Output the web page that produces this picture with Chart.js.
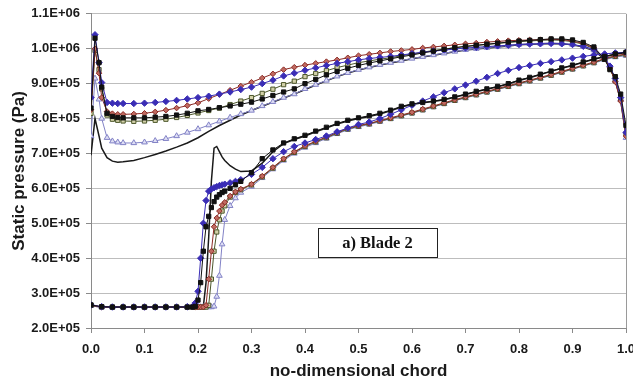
<!DOCTYPE html>
<html>
<head>
<meta charset="utf-8">
<script src="https://cdn.jsdelivr.net/npm/chart.js@4.4.0/dist/chart.umd.min.js"></script>
<style>
html,body{margin:0;padding:0;background:#fff;}
#c{display:block;}
</style>
</head>
<body>
<canvas id="c" width="633" height="387"></canvas>
<script>
// Values in units of 1E+05 Pa
const upperX = [0,0.0075,0.015,0.02,0.03,0.04,0.05,0.06,0.08,0.10,0.12,0.14,0.16,0.18,0.20,0.22,0.24,0.26,0.28,0.30,0.32,0.34,0.36,0.38,0.40,0.42,0.44,0.46,0.48,0.50,0.52,0.54,0.56,0.58,0.60,0.62,0.64,0.66,0.68,0.70,0.72,0.74,0.76,0.78,0.80,0.82,0.84,0.86,0.88,0.90,0.92,0.94,0.96,0.97,0.98,0.99,1.0];

const blueUpper = [8.6,10.4,9.6,9.03,8.46,8.44,8.43,8.43,8.43,8.44,8.46,8.49,8.52,8.56,8.6,8.64,8.7,8.76,8.83,8.9,9.0,9.1,9.22,9.3,9.38,9.45,9.52,9.58,9.63,9.68,9.72,9.75,9.78,9.82,9.86,9.9,9.93,9.96,9.99,10.02,10.04,10.06,10.08,10.1,10.12,10.13,10.14,10.15,10.14,10.12,10.07,9.98,9.75,9.5,9.15,8.6,7.6];
const brownUpper = [8.25,10.0,9.3,8.6,8.2,8.14,8.12,8.12,8.13,8.15,8.19,8.24,8.3,8.37,8.45,8.57,8.69,8.81,8.93,9.04,9.16,9.28,9.4,9.47,9.53,9.58,9.63,9.68,9.74,9.8,9.84,9.88,9.92,9.95,9.98,10.02,10.05,10.08,10.11,10.14,10.16,10.19,10.21,10.23,10.24,10.25,10.26,10.27,10.26,10.22,10.15,10.02,9.72,9.45,9.05,8.5,7.5];
const oliveUpper = [8.15,9.95,9.4,8.85,8.1,7.98,7.95,7.93,7.92,7.93,7.95,7.98,8.03,8.09,8.16,8.23,8.3,8.4,8.5,8.6,8.72,8.84,8.97,9.07,9.2,9.29,9.37,9.46,9.53,9.6,9.65,9.7,9.74,9.8,9.85,9.9,9.95,9.99,10.03,10.06,10.09,10.12,10.15,10.18,10.2,10.22,10.24,10.25,10.24,10.2,10.13,10.0,9.7,9.42,9.08,8.55,7.55];
const blackUpper = [8.3,10.3,9.6,8.9,8.15,8.06,8.03,8.02,8.02,8.02,8.04,8.06,8.1,8.15,8.22,8.26,8.31,8.36,8.41,8.47,8.56,8.66,8.76,8.85,9.0,9.12,9.25,9.35,9.44,9.52,9.59,9.65,9.71,9.77,9.82,9.88,9.93,9.98,10.03,10.07,10.1,10.13,10.16,10.19,10.22,10.24,10.26,10.28,10.28,10.25,10.18,10.05,9.7,9.4,9.2,8.7,7.8];
const lavUpper = [7.5,9.15,8.55,8.0,7.45,7.35,7.32,7.3,7.3,7.32,7.36,7.42,7.5,7.6,7.7,7.81,7.92,8.03,8.13,8.23,8.36,8.48,8.6,8.7,8.85,8.97,9.09,9.21,9.31,9.4,9.47,9.54,9.6,9.66,9.72,9.77,9.82,9.87,9.92,9.97,10.0,10.03,10.06,10.09,10.12,10.14,10.15,10.16,10.15,10.12,10.06,9.96,9.72,9.5,9.1,8.55,7.45];
const lineUpper = [6.95,8.0,7.5,7.15,6.88,6.78,6.75,6.76,6.8,6.88,6.97,7.07,7.18,7.3,7.45,7.63,7.8,7.95,8.1,8.23,8.35,8.47,8.59,8.7,8.83,8.96,9.08,9.2,9.3,9.39,9.46,9.53,9.59,9.65,9.71,9.76,9.81,9.86,9.91,9.96,9.99,10.02,10.05,10.08,10.11,10.13,10.14,10.15,10.14,10.11,10.05,9.95,9.7,9.48,9.08,8.52,7.5];

const lowerX = [0,0.02,0.04,0.06,0.08,0.10,0.12,0.14,0.16,0.18,0.19,0.195,0.20,0.205,0.21,0.215,0.22,0.225,0.23,0.235,0.24,0.245,0.25,0.26,0.27,0.28,0.30,0.32,0.34,0.36,0.38,0.40,0.42,0.44,0.46,0.48,0.50,0.52,0.54,0.56,0.58,0.60,0.62,0.64,0.66,0.68,0.70,0.72,0.74,0.76,0.78,0.80,0.82,0.84,0.86,0.88,0.90,0.92,0.94,0.96,0.98,1.0];

const blueLower = [2.66,2.61,2.6,2.6,2.6,2.6,2.6,2.6,2.6,2.61,2.62,2.72,3.05,4.0,5.0,5.65,5.92,5.98,6.02,6.05,6.08,6.1,6.12,6.16,6.2,6.25,6.4,6.6,6.85,7.05,7.2,7.3,7.4,7.5,7.62,7.73,7.83,7.9,8.0,8.12,8.25,8.38,8.5,8.62,8.74,8.85,8.96,9.07,9.18,9.29,9.38,9.46,9.52,9.58,9.63,9.68,9.73,9.78,9.82,9.85,9.88,9.9];
const blackLower = [2.66,2.61,2.6,2.6,2.6,2.6,2.6,2.6,2.6,2.6,2.6,2.62,2.8,3.3,4.2,4.9,5.2,5.45,5.62,5.75,5.82,5.88,5.92,6.0,6.1,6.2,6.45,6.85,7.1,7.3,7.42,7.52,7.64,7.75,7.86,7.95,8.02,8.08,8.15,8.24,8.35,8.42,8.46,8.5,8.55,8.62,8.7,8.78,8.85,8.92,9.0,9.1,9.18,9.27,9.36,9.45,9.53,9.62,9.71,9.78,9.85,9.9];
const brownLower = [2.65,2.6,2.6,2.6,2.6,2.6,2.6,2.6,2.6,2.6,2.6,2.6,2.6,2.6,2.6,2.65,3.4,4.2,4.9,5.15,5.35,5.52,5.6,5.78,5.9,5.98,6.12,6.35,6.6,6.85,7.05,7.22,7.35,7.47,7.6,7.72,7.8,7.86,7.94,8.02,8.1,8.18,8.27,8.36,8.45,8.54,8.62,8.7,8.78,8.86,8.94,9.02,9.1,9.18,9.26,9.35,9.44,9.53,9.62,9.72,9.8,9.85];
const oliveLower = [2.65,2.6,2.6,2.6,2.6,2.6,2.6,2.6,2.6,2.6,2.6,2.6,2.6,2.6,2.6,2.6,2.65,3.4,4.2,4.75,5.1,5.35,5.5,5.75,5.88,5.96,6.1,6.33,6.58,6.83,7.03,7.2,7.33,7.45,7.58,7.7,7.78,7.85,7.93,8.0,8.08,8.16,8.25,8.34,8.43,8.52,8.6,8.68,8.76,8.84,8.92,9.0,9.08,9.16,9.24,9.33,9.42,9.51,9.6,9.7,9.78,9.83];
const lavLower = [2.64,2.6,2.6,2.6,2.6,2.6,2.6,2.6,2.6,2.6,2.6,2.6,2.6,2.6,2.6,2.6,2.6,2.6,2.62,2.9,3.5,4.4,5.1,5.5,5.72,5.88,6.05,6.3,6.55,6.8,7.0,7.17,7.3,7.43,7.56,7.68,7.76,7.83,7.91,7.99,8.07,8.15,8.24,8.33,8.42,8.51,8.59,8.67,8.75,8.83,8.91,8.99,9.07,9.15,9.23,9.32,9.41,9.5,9.59,9.68,9.76,9.8];
const lineLower = [2.64,2.6,2.6,2.6,2.6,2.6,2.6,2.6,2.6,2.6,2.6,2.6,2.6,2.6,2.62,3.3,4.6,6.2,7.15,7.2,7.05,6.9,6.8,6.65,6.55,6.48,6.5,6.72,7.05,7.28,7.4,7.5,7.62,7.73,7.84,7.93,8.0,8.06,8.13,8.22,8.33,8.4,8.45,8.49,8.54,8.61,8.69,8.77,8.84,8.91,8.99,9.09,9.17,9.26,9.35,9.44,9.52,9.61,9.7,9.77,9.84,9.89];

const yTicks = [2,3,4,5,6,7,8,9,10,11];
const xTicks = [0,0.1,0.2,0.3,0.4,0.5,0.6,0.7,0.8,0.9,1.0];
const noteText = "a) Blade 2";

const styles = {
  black:  {border:'#111111', fill:'#111111', style:'rect', r:3, order:1},
  blue:   {border:'#3a2db5', fill:'#3a2db5', style:'rectRot', r:3.2, order:2},
  brown:  {border:'#8a2a25', fill:'#c06a60', style:'rectRot', r:2.8, order:3},
  olive:  {border:'#4c572a', fill:'#d2d0a8', style:'rect', r:3, order:4},
  lav:    {border:'#8282c6', fill:'#dedef4', style:'triangle', r:3.3, order:5},
  line:   {border:'#1a1a1a', fill:'#1a1a1a', style:'circle', r:0, order:6}
};
function mk(xs, ys, s, w) {
  return {
    data: xs.map((x,i)=>({x:x, y:ys[i]})),
    showLine: true,
    borderColor: s.border,
    backgroundColor: s.fill,
    pointBorderColor: s.border,
    pointBackgroundColor: s.fill,
    pointStyle: s.style,
    pointRadius: s.r,
    pointBorderWidth: 1,
    borderWidth: w || 1,
    tension: 0,
    order: s.order
  };
}
const datasets = [
  mk(upperX, blackUpper, styles.black), mk(lowerX, blackLower, styles.black),
  mk(upperX, blueUpper, styles.blue), mk(lowerX, blueLower, styles.blue),
  mk(upperX, brownUpper, styles.brown), mk(lowerX, brownLower, styles.brown),
  mk(upperX, oliveUpper, styles.olive), mk(lowerX, oliveLower, styles.olive),
  mk(upperX, lavUpper, styles.lav), mk(lowerX, lavLower, styles.lav),
  mk(upperX, lineUpper, styles.line, 1.5), mk(lowerX, lineLower, styles.line, 1.5)
];

const frame = {
  id: 'frame',
  afterDraw(chart) {
    const {ctx, chartArea: a, scales} = chart;
    ctx.save();
    ctx.strokeStyle = '#9a9a9a';
    ctx.lineWidth = 1;
    ctx.beginPath();
    ctx.moveTo(Math.round(a.right)+0.5, a.top);
    ctx.lineTo(Math.round(a.right)+0.5, a.bottom);
    ctx.stroke();
    // annotation box
    const xs = scales.x, ys = scales.y;
    const x0 = xs.getPixelForValue(0.424), x1 = xs.getPixelForValue(0.647);
    const y0 = ys.getPixelForValue(4.86), y1 = ys.getPixelForValue(4.03);
    ctx.fillStyle = '#ffffff';
    ctx.fillRect(x0, y0, x1-x0, y1-y0);
    ctx.strokeStyle = '#222';
    ctx.strokeRect(Math.round(x0)+0.5, Math.round(y0)+0.5, Math.round(x1-x0), Math.round(y1-y0));
    ctx.fillStyle = '#111';
    ctx.font = 'bold 16.5px "Liberation Serif", "Times New Roman", serif';
    ctx.textAlign = 'center';
    ctx.textBaseline = 'middle';
    ctx.fillText(noteText, (x0+x1)/2, (y0+y1)/2 + 1);
    ctx.restore();
  }
};

const font = '"Liberation Sans", Arial, sans-serif';
new Chart(document.getElementById('c'), {
  type: 'scatter',
  data: {datasets},
  plugins: [frame],
  options: {
    responsive: false,
    animation: false,
    layout: {padding: {left: 0, right: 7, top: 13, bottom: 0}},
    plugins: {legend: {display: false}, tooltip: {enabled: false}},
    scales: {
      x: {
        type: 'linear', min: 0, max: 1,
        afterBuildTicks(s) { s.ticks = xTicks.map(v => ({value: v})); },
        afterFit(s) { s.height = 59; s.paddingLeft = 0; s.paddingRight = 0; },
        grid: {drawOnChartArea: false, color: '#8a8a8a', tickLength: 5},
        border: {color: '#8a8a8a'},
        ticks: {padding: 9, color: '#1a1a1a', font: {family: font, size: 13, weight: 'bold'}, maxRotation: 0,
                callback: v => v.toFixed(1)},
        title: {display: true, text: 'no-dimensional chord', color: '#1a1a1a',
                font: {family: font, size: 17, weight: 'bold'}, padding: {top: 0, bottom: 5}}
      },
      y: {
        type: 'linear', min: 2, max: 11,
        afterBuildTicks(s) { s.ticks = yTicks.map(v => ({value: v})); },
        afterFit(s) { s.width = 91; },
        grid: {color: '#bdbdbd', tickColor: '#8a8a8a', tickLength: 5},
        border: {color: '#8a8a8a'},
        ticks: {padding: 6, color: '#1a1a1a', font: {family: font, size: 13, weight: 'bold'},
                callback: v => v >= 10 ? (v/10).toFixed(1) + 'E+06' : v.toFixed(1) + 'E+05'},
        title: {display: true, text: 'Static pressure (Pa)', color: '#1a1a1a',
                font: {family: font, size: 17, weight: 'bold'}, padding: {top: 9, bottom: 0}}
      }
    }
  }
});
</script>
</body>
</html>
